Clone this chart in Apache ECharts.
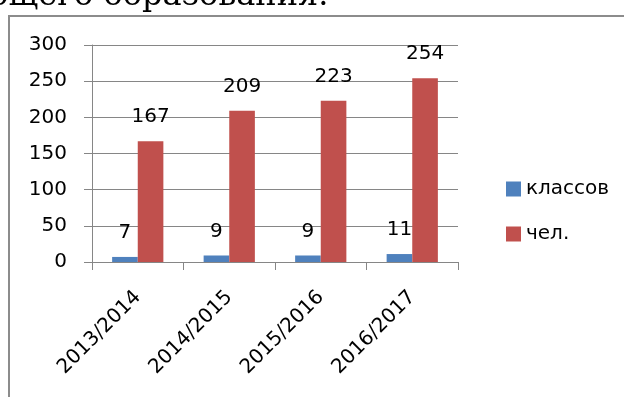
<!DOCTYPE html>
<html>
<head>
<meta charset="utf-8">
<script src="https://cdn.jsdelivr.net/npm/echarts@6/dist/echarts.min.js"></script>
<style>
  html, body { margin: 0; padding: 0; background: #fff; }
  #chart { width: 624px; height: 397px; }
</style>
</head>
<body>
<div id="chart"></div>
<script>
// учебные годы
var years = ["2013/2014", "2014/2015", "2015/2016", "2016/2017"];
var classes = [7, 9, 9, 11];       // классов
var pupils = [167, 209, 223, 254]; // чел.
var yTicks = { min: 0, max: 300, step: 50 };

var font = "DejaVu Sans";
var chart = echarts.init(document.getElementById("chart"));

var barLabel = {
  show: true,
  position: "top",
  distance: 14,
  color: "#000",
  fontFamily: font,
  fontSize: 20
};

var option = {
  backgroundColor: "#fff",
  animation: false,
  graphic: [
    {
      // хвост заголовка из документа, обрезан сверху
      type: "text",
      left: -30,
      top: -19,
      style: {
        text: "общего образования.",
        font: "32px 'DejaVu Serif'",
        fill: "#000"
      }
    },
    {
      // рамка диаграммы
      type: "rect",
      shape: { x: 9, y: 16, width: 700, height: 500 },
      style: { fill: "none", stroke: "#8c8c8c", lineWidth: 2 }
    }
  ],
  legend: {
    orient: "vertical",
    left: 501,
    top: 174,
    itemWidth: 15,
    itemHeight: 15,
    itemGap: 25,
    icon: "rect",
    textStyle: { fontFamily: font, fontSize: 20, color: "#000" },
    data: ["классов", "чел."]
  },
  grid: {
    left: 92,
    right: 166,
    top: 45,
    bottom: 135
  },
  xAxis: {
    type: "category",
    data: years,
    axisLine: { lineStyle: { color: "#868686", width: 1 } },
    axisTick: { show: true, length: 8, alignWithLabel: false, lineStyle: { color: "#868686" } },
    axisLabel: {
      rotate: 45,
      margin: 32,
      interval: 0,
      color: "#000",
      fontFamily: font,
      fontSize: 20
    }
  },
  yAxis: {
    type: "value",
    min: yTicks.min,
    max: yTicks.max,
    interval: yTicks.step,
    axisLine: { show: true, lineStyle: { color: "#868686", width: 1 } },
    axisTick: { show: true, length: 8, lineStyle: { color: "#868686" } },
    splitLine: { lineStyle: { color: "#868686", width: 1 } },
    axisLabel: {
      margin: 25,
      color: "#000",
      fontFamily: font,
      fontSize: 20
    }
  },
  series: [
    {
      name: "классов",
      type: "bar",
      data: classes,
      barGap: 0,
      barCategoryGap: "44%",
      itemStyle: { color: "#4f81bd" },
      label: barLabel
    },
    {
      name: "чел.",
      type: "bar",
      data: pupils,
      barGap: 0,
      barCategoryGap: "44%",
      itemStyle: { color: "#c0504d" },
      label: barLabel
    }
  ]
};

chart.setOption(option);
window.addEventListener("resize", function () {
  chart.resize();
});
</script>
</body>
</html>
